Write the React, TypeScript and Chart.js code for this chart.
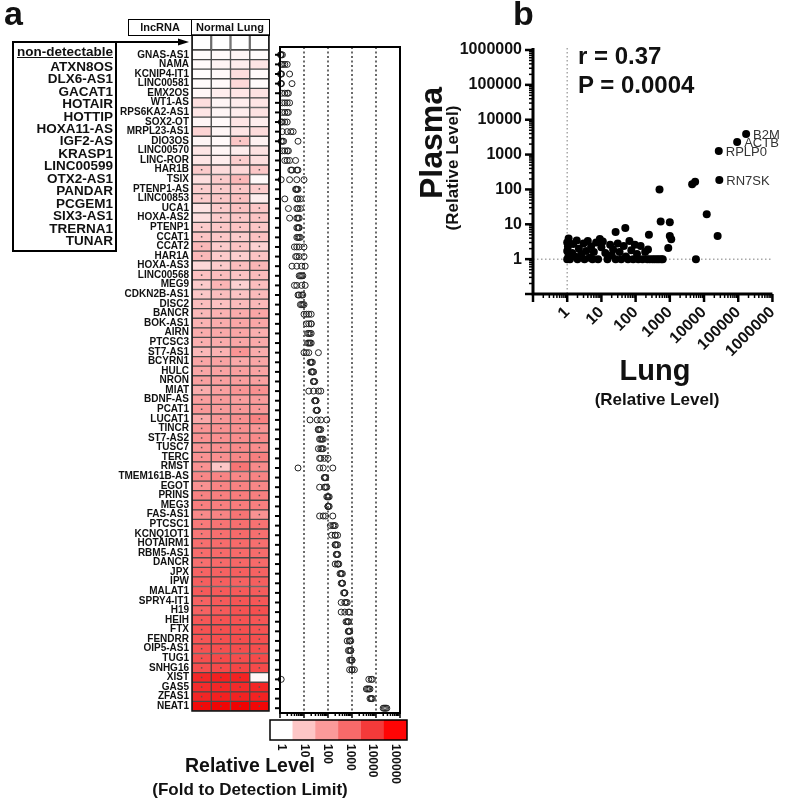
import React, { useEffect, useRef } from 'react';
import { Chart, registerables } from 'chart.js';

Chart.register(...registerables);
const FONT = "'Liberation Sans', Arial, Helvetica, sans-serif";
Chart.defaults.font.family = FONT;
Chart.defaults.color = '#111';

// ---------- Panel a data ----------
const nonDetectable = ['ATXN8OS', 'DLX6-AS1', 'GACAT1', 'HOTAIR', 'HOTTIP', 'HOXA11-AS', 'IGF2-AS', 'KRASP1', 'LINC00599', 'OTX2-AS1', 'PANDAR', 'PCGEM1', 'SIX3-AS1', 'TRERNA1', 'TUNAR'];

const lncRNAs = ['GNAS-AS1', 'NAMA', 'KCNIP4-IT1', 'LINC00581', 'EMX2OS', 'WT1-AS', 'RPS6KA2-AS1', 'SOX2-OT', 'MRPL23-AS1', 'DIO3OS',
  'LINC00570', 'LINC-ROR', 'HAR1B', 'TSIX', 'PTENP1-AS', 'LINC00853', 'UCA1', 'HOXA-AS2', 'PTENP1', 'CCAT1',
  'CCAT2', 'HAR1A', 'HOXA-AS3', 'LINC00568', 'MEG9', 'CDKN2B-AS1', 'DISC2', 'BANCR', 'BOK-AS1', 'AIRN',
  'PTCSC3', 'ST7-AS1', 'BCYRN1', 'HULC', 'NRON', 'MIAT', 'BDNF-AS', 'PCAT1', 'LUCAT1', 'TINCR',
  'ST7-AS2', 'TUSC7', 'TERC', 'RMST', 'TMEM161B-AS', 'EGOT', 'PRINS', 'MEG3', 'FAS-AS1', 'PTCSC1',
  'KCNQ1OT1', 'HOTAIRM1', 'RBM5-AS1', 'DANCR', 'JPX', 'IPW', 'MALAT1', 'SPRY4-IT1', 'H19', 'HEIH',
  'FTX', 'FENDRR', 'OIP5-AS1', 'TUG1', 'SNHG16', 'XIST', 'GAS5', 'ZFAS1', 'NEAT1'];

// log10 of relative level (fold to detection limit), one array per normal lung sample
const sample1Log10 = [0.02, 0.05, 0.02, 0.03, 0.08, 0.4, 0.3, 0.1, 0.55, 0.1,
  0.3, 0.3, 0.7, 0.4, 0.65, 0.7, 0.35, 0.4, 0.7, 0.8,
  1.0, 1.0, 0.5, 0.85, 0.7, 0.75, 0.9, 1.0, 1.1, 1.2,
  1.15, 1.0, 1.3, 1.3, 1.4, 1.2, 1.45, 1.55, 1.25, 1.6,
  1.65, 1.6, 1.65, 1.65, 1.85, 1.65, 1.95, 2.0, 1.8, 2.1,
  2.15, 2.3, 2.35, 2.3, 2.5, 2.6, 2.7, 2.55, 2.55, 2.75,
  2.85, 2.8, 2.85, 2.9, 2.9, 3.7, 3.6, 3.75, 4.3];
const sample2Log10 = [0.05, 0.12, 0.06, 0.06, 0.2, 0.1, 0.1, 0.05, 0.1, 0.05,
  0.1, 0.2, 0.45, 0.7, 0.7, 0.75, 0.7, 0.7, 0.75, 0.75,
  0.7, 0.7, 0.7, 0.9, 1.05, 0.9, 0.85, 1.1, 1.2, 1.25,
  1.2, 1.1, 1.35, 1.35, 1.4, 1.4, 1.5, 1.5, 1.55, 1.65,
  1.7, 1.7, 1.7, 0.75, 1.9, 1.9, 2.0, 2.0, 1.9, 2.2,
  2.3, 2.35, 2.4, 2.4, 2.55, 2.6, 2.7, 2.7, 2.7, 2.85,
  2.9, 2.9, 2.9, 3.0, 3.0, 3.85, 3.7, 3.85, 4.4];
const sample3Log10 = [0.1, 0.2, 0.4, 0.5, 0.3, 0.2, 0.2, 0.3, 0.3, 0.75,
  0.2, 0.65, 0.5, 1.0, 0.75, 0.85, 0.85, 0.75, 0.8, 0.7,
  0.8, 0.65, 0.9, 0.8, 0.6, 0.8, 0.95, 1.2, 1.3, 1.3,
  1.3, 1.6, 1.25, 1.4, 1.45, 1.6, 1.45, 1.55, 1.7, 1.7,
  1.75, 1.8, 1.85, 2.2, 1.85, 1.95, 2.05, 2.05, 2.2, 2.3,
  2.4, 2.4, 2.4, 2.45, 2.6, 2.55, 2.7, 2.8, 2.85, 2.85,
  2.9, 2.95, 2.95, 2.95, 3.1, 3.8, 3.65, 3.8, 4.45];
const sample4Log10 = [0.04, 0.3, 0.05, 0.04, 0.35, 0.3, 0.35, 0.2, 0.45, 0.15,
  0.35, 0.4, 0.75, 0.05, 0.68, 0.2, 0.75, 0.8, 0.78, 0.85,
  0.6, 0.8, 1.05, 0.95, 0.9, 0.95, 1.0, 1.3, 1.3, 1.15,
  1.25, 1.2, 1.3, 1.35, 1.4, 1.7, 1.5, 1.55, 1.95, 1.6,
  1.8, 1.75, 2.0, 1.8, 1.9, 1.85, 2.0, 2.0, 1.65, 2.25,
  2.3, 2.3, 2.35, 2.4, 2.55, 2.6, 2.65, 2.75, 2.9, 2.8,
  2.85, 2.9, 2.95, 3.0, 3.0, 0.05, 3.75, 3.8, 4.35];
const samples = [sample1Log10, sample2Log10, sample3Log10, sample4Log10];

const decadeLines = [10, 100, 1000, 10000];
const levelTicks = ['1', '10', '100', '1000', '10000', '100000'];
const levelColors = ['#ffffff', '#fdc6c6', '#fb9a9a', '#f86a6a', '#f43a3a', '#ff0505'];
const levelSpan = [1, 1, 1, 1, 1, 1];

// ---------- Panel b data ----------
const labeledGenes = ['B2M', 'ACTB', 'RPLP0', 'RN7SK'];
const lungLevel = [170000, 93000, 27000, 28000, 500, 4500, 5500, 12000, 25000, 5800,
  540, 1000, 1000, 1100, 900, 245, 230, 50, 26,
  1, 1.1, 1, 1.05, 1, 1.1, 1.2, 1.4, 1.5, 1.7,
  1.9, 2, 2.2, 2.6, 3, 3.2, 3.6, 4, 4.5, 5,
  5.5, 6, 7, 8, 9, 10, 11, 13, 15, 18,
  20, 22, 26, 30, 34, 38, 45, 52, 60, 66,
  75, 85, 95, 110, 120, 140, 160, 190, 220, 260,
  310, 360, 420, 480, 560, 620];
const plasmaLevel = [3900, 2300, 1260, 186, 100, 140, 165, 19.5, 4.6, 1,
  12, 11.5, 4.6, 3.7, 2.1, 5, 1.9, 7.8, 6,
  1, 1.3, 1.7, 2.3, 3, 3.9, 1, 1.5, 2.7, 1.2,
  3.4, 1, 2, 1.4, 2.8, 1, 1.7, 3.3, 1.1, 2.3,
  1, 1.6, 3.0, 1, 3.8, 2.2, 3.2, 1.5, 1, 2.6,
  1.3, 1.9, 1, 2.8, 1.6, 1, 2.4, 1.2, 1, 3.3,
  1.8, 1, 2.6, 1.4, 1, 2.4, 1, 1.6, 1, 1,
  1, 1, 1, 1, 1, 1];

// ---------- helpers ----------
function heatColor(v: number) {
  const t = Math.pow(Math.min(Math.max(v / 4.5, 0), 1), 0.85);
  const g = Math.round(255 * (1 - t));
  const r = Math.round(255 - 14 * t);
  return `rgb(${r},${g},${g})`;
}
const isPow10 = (v: number) => {
  const l = Math.log10(v);
  return Math.abs(l - Math.round(l)) < 1e-6;
};
function logTicks(minExp: number, maxExp: number) {
  const out: any[] = [];
  for (let e = minExp; e < maxExp; e++) for (let s = 1; s <= 9; s++) out.push({ value: s * Math.pow(10, e) });
  out.push({ value: Math.pow(10, maxExp) });
  return out;
}
const noPlugins = { legend: { display: false }, tooltip: { enabled: false } };

// ---------- chart configs ----------
const heatDecor = {
  id: 'heatDecor',
  afterDatasetsDraw(chart: any) {
    const { ctx, chartArea: a, scales: { x, y } } = chart;
    ctx.save();
    const top0 = a.top - 15;
    ctx.fillStyle = '#fff';
    ctx.fillRect(a.left, top0, a.right - a.left, 15);
    ctx.strokeStyle = '#4a4a4a';
    ctx.lineWidth = 1;
    for (let c = 0; c < 4; c++) {
      const x0 = x.getPixelForValue(c), x1 = x.getPixelForValue(c + 1);
      ctx.strokeRect(x0 + 0.5, top0 + 0.5, x1 - x0 - 1, 14);
    }
    ctx.fillStyle = '#555';
    samples.forEach((s, c) => s.forEach((v, i) => {
      if (v >= 0.6) {
        const px = x.getPixelForValue(c + 0.5), py = y.getPixelForValue(i);
        ctx.fillRect(px - 0.75, py - 0.75, 1.5, 1.5);
      }
    }));
    ctx.strokeStyle = '#111';
    ctx.lineWidth = 1.5;
    ctx.strokeRect(a.left, top0, a.right - a.left, a.bottom - top0);
    // arrow from the non-detectable box to the heat map
    ctx.strokeStyle = '#000';
    ctx.lineWidth = 2;
    ctx.beginPath(); ctx.moveTo(116, 42); ctx.lineTo(181, 42); ctx.stroke();
    ctx.fillStyle = '#000';
    ctx.beginPath(); ctx.moveTo(189, 42); ctx.lineTo(178, 38.5); ctx.lineTo(178, 45.5); ctx.closePath(); ctx.fill();
    ctx.restore();
  },
};

function heatmapConfig(): any {
  return {
    type: 'bar',
    data: {
      labels: lncRNAs,
      datasets: samples.map((s, c) => ({
        data: s.map(() => [c, c + 1]),
        backgroundColor: s.map(heatColor),
        borderColor: '#4a4a4a',
        borderWidth: 1,
        borderSkipped: false,
        grouped: false,
        barPercentage: 1,
        categoryPercentage: 1,
      })),
    },
    options: {
      indexAxis: 'y',
      responsive: false, animation: false, devicePixelRatio: 1,
      layout: { padding: { top: 50, bottom: 7, left: 0, right: 6 } },
      plugins: noPlugins,
      scales: {
        x: { type: 'linear', min: 0, max: 4, display: false },
        y: {
          type: 'category',
          grid: { display: false, drawTicks: false },
          border: { display: false },
          ticks: { autoSkip: false, padding: 3, color: '#111', font: { size: 10, weight: 'bold', family: FONT } },
          afterFit: (s: any) => { s.width = 192; },
        },
      },
    },
    plugins: [heatDecor],
  };
}

const dotDecor = {
  id: 'dotDecor',
  beforeDatasetsDraw(chart: any) {
    const { ctx, chartArea: a, scales: { x } } = chart;
    ctx.save();
    ctx.strokeStyle = '#3a3a3a';
    ctx.lineWidth = 1.5;
    ctx.setLineDash([2, 2.5]);
    decadeLines.forEach((v) => {
      const px = x.getPixelForValue(v);
      ctx.beginPath(); ctx.moveTo(px, a.top); ctx.lineTo(px, a.bottom); ctx.stroke();
    });
    ctx.restore();
  },
  afterDatasetsDraw(chart: any) {
    const { ctx, chartArea: a, scales: { x, y } } = chart;
    ctx.save();
    ctx.strokeStyle = '#000';
    ctx.lineWidth = 2;
    ctx.strokeRect(a.left, a.top, a.right - a.left, a.bottom - a.top);
    lncRNAs.forEach((_, i) => {
      const py = y.getPixelForValue(i);
      ctx.beginPath(); ctx.moveTo(a.left, py); ctx.lineTo(a.left - 5, py); ctx.stroke();
    });
    ctx.lineWidth = 1.5;
    logTicks(0, 5).forEach((t) => {
      const px = x.getPixelForValue(t.value);
      ctx.beginPath(); ctx.moveTo(px, a.bottom); ctx.lineTo(px, a.bottom + (isPow10(t.value) ? 5 : 3)); ctx.stroke();
    });
    ctx.restore();
  },
};

function dotConfig(): any {
  return {
    type: 'scatter',
    data: {
      datasets: [{
        data: lncRNAs.flatMap((_, i) => samples.map((s) => ({ x: Math.pow(10, s[i]), y: i }))),
        pointRadius: 3,
        pointBorderWidth: 1,
        pointBorderColor: '#222',
        pointBackgroundColor: 'rgba(255,255,255,0)',
        clip: false,
      }],
    },
    options: {
      responsive: false, animation: false, devicePixelRatio: 1,
      layout: { padding: { left: 18, right: 8, top: 7, bottom: 7 } },
      plugins: noPlugins,
      scales: {
        x: { type: 'logarithmic', min: 1, max: 100000, display: false },
        y: { type: 'linear', min: -0.81, max: 68.5, reverse: true, display: false },
      },
    },
    plugins: [dotDecor],
  };
}

const barDecor = {
  id: 'barDecor',
  afterDraw(chart: any) {
    const { ctx, chartArea: a, scales: { x } } = chart;
    ctx.save();
    ctx.strokeStyle = '#000';
    ctx.lineWidth = 1.5;
    ctx.strokeRect(a.left, a.top, a.right - a.left, a.bottom - a.top);
    ctx.fillStyle = '#111';
    ctx.font = `bold 12px ${FONT}`;
    ctx.textAlign = 'left';
    ctx.textBaseline = 'middle';
    levelTicks.forEach((lab, i) => {
      const px = x.getPixelForValue(i);
      ctx.save();
      ctx.translate(px, a.bottom + 4);
      ctx.rotate(Math.PI / 2);
      ctx.fillText(lab, 0, 0);
      ctx.restore();
    });
    ctx.restore();
  },
};

function colorbarConfig(): any {
  return {
    type: 'bar',
    data: {
      labels: levelTicks,
      datasets: [{ data: levelSpan, backgroundColor: levelColors, borderWidth: 0, barPercentage: 1, categoryPercentage: 1 }],
    },
    options: {
      responsive: false, animation: false, devicePixelRatio: 1,
      layout: { padding: { left: 8, right: 7, top: 8, bottom: 63 } },
      plugins: noPlugins,
      scales: { x: { display: false }, y: { display: false, min: 0, max: 1 } },
    },
    plugins: [barDecor],
  };
}

const scatterDecor = {
  id: 'scatterDecor',
  beforeDatasetsDraw(chart: any) {
    const { ctx, chartArea: a, scales: { x, y } } = chart;
    ctx.save();
    ctx.strokeStyle = '#a8a8a8';
    ctx.lineWidth = 1.5;
    ctx.setLineDash([1.5, 2.5]);
    const px = x.getPixelForValue(1), py = y.getPixelForValue(1);
    ctx.beginPath(); ctx.moveTo(px, a.top - 2); ctx.lineTo(px, a.bottom); ctx.stroke();
    ctx.beginPath(); ctx.moveTo(a.left, py); ctx.lineTo(a.right, py); ctx.stroke();
    ctx.restore();
  },
  afterDraw(chart: any) {
    const { ctx, chartArea: a, scales: { x, y } } = chart;
    ctx.save();
    ctx.strokeStyle = '#000';
    ctx.lineWidth = 3;
    ctx.beginPath(); ctx.moveTo(a.left, a.top - 2); ctx.lineTo(a.left, a.bottom); ctx.lineTo(a.right, a.bottom); ctx.stroke();
    y.ticks.forEach((t: any) => {
      const py = y.getPixelForValue(t.value);
      const major = isPow10(t.value);
      ctx.lineWidth = major ? 2.5 : 1.5;
      ctx.beginPath(); ctx.moveTo(a.left, py); ctx.lineTo(a.left - (major ? 8 : 4), py); ctx.stroke();
    });
    x.ticks.forEach((t: any) => {
      const px = x.getPixelForValue(t.value);
      const major = isPow10(t.value);
      ctx.lineWidth = major ? 2.5 : 1.5;
      ctx.beginPath(); ctx.moveTo(px, a.bottom); ctx.lineTo(px, a.bottom + (major ? 8 : 4)); ctx.stroke();
    });
    const meta = chart.getDatasetMeta(0);
    ctx.fillStyle = '#333';
    ctx.font = `13px ${FONT}`;
    ctx.textAlign = 'left';
    ctx.textBaseline = 'middle';
    labeledGenes.forEach((name, i) => {
      const el = meta.data[i];
      ctx.fillText(name, el.x + 7, el.y + 1);
    });
    ctx.restore();
  },
};

function scatterConfig(): any {
  const tickFont = { size: 16, weight: 'bold', family: FONT };
  const label = (v: any) => (v >= 1 && isPow10(v) ? String(v) : '');
  return {
    type: 'scatter',
    data: {
      datasets: [{
        data: lungLevel.map((v, i) => ({ x: v, y: plasmaLevel[i] })),
        pointRadius: 4,
        pointBackgroundColor: '#000',
        pointBorderWidth: 0,
        clip: false,
      }],
    },
    options: {
      responsive: false, animation: false, devicePixelRatio: 1,
      layout: { padding: { top: 20, right: 9, left: 0, bottom: 0 } },
      plugins: noPlugins,
      scales: {
        x: {
          type: 'logarithmic', min: 0.1, max: 1000000,
          afterBuildTicks: (s: any) => { s.ticks = logTicks(-1, 6); },
          afterFit: (s: any) => { s.height = 76; },
          grid: { display: false, drawTicks: true, tickLength: 8 },
          border: { display: false },
          ticks: { autoSkip: false, minRotation: 45, maxRotation: 45, padding: 1, color: '#111', font: tickFont, callback: label },
        },
        y: {
          type: 'logarithmic', min: 0.1, max: 1000000,
          afterBuildTicks: (s: any) => { s.ticks = logTicks(-1, 6); },
          afterFit: (s: any) => { s.width = 93; },
          grid: { display: false, drawTicks: true, tickLength: 8 },
          border: { display: false },
          ticks: { autoSkip: false, padding: 3, color: '#111', font: tickFont, callback: label },
        },
      },
    },
    plugins: [scatterDecor],
  };
}

// ---------- components ----------
function ChartBox({ left, top, width, height, make }: any) {
  const ref = useRef<HTMLCanvasElement>(null);
  useEffect(() => {
    const chart = new Chart(ref.current as HTMLCanvasElement, make());
    return () => chart.destroy();
  }, []);
  return <canvas ref={ref} width={width} height={height} style={{ position: 'absolute', left, top, width, height }} />;
}

function CText({ cx, cy, size, bold, children, lh }: any) {
  const h = lh || Math.round(size * 1.3);
  return (
    <div style={{ position: 'absolute', left: cx - 250, width: 500, top: cy - h / 2, height: h, lineHeight: `${h}px`, textAlign: 'center', fontSize: size, fontWeight: bold ? 'bold' : 'normal', whiteSpace: 'nowrap', color: '#111' }}>
      {children}
    </div>
  );
}

function RText({ cx, cy, size, bold, children }: any) {
  const w = 260, h = Math.round(size * 1.3);
  return (
    <div style={{ position: 'absolute', left: cx - w / 2, top: cy - h / 2, width: w, height: h, lineHeight: `${h}px`, textAlign: 'center', fontSize: size, fontWeight: bold ? 'bold' : 'normal', whiteSpace: 'nowrap', transform: 'rotate(-90deg)', color: '#111' }}>
      {children}
    </div>
  );
}

export default function App() {
  return (
    <div style={{ position: 'absolute', left: 0, top: 0, width: 787, height: 803, background: '#fff', fontFamily: FONT, color: '#111', overflow: 'hidden' }}>
      <ChartBox left={0} top={0} width={275} height={720} make={heatmapConfig} />
      <ChartBox left={262} top={40} width={146} height={680} make={dotConfig} />
      <ChartBox left={262} top={712} width={152} height={91} make={colorbarConfig} />
      <ChartBox left={440} top={30} width={347} height={340} make={scatterConfig} />

      {/* panel letters */}
      <div style={{ position: 'absolute', left: 4, top: -4, fontSize: 34, lineHeight: '34px', fontWeight: 'bold' }}>a</div>
      <div style={{ position: 'absolute', left: 513, top: -4, fontSize: 34, lineHeight: '34px', fontWeight: 'bold' }}>b</div>

      {/* heat map header */}
      <div style={{ position: 'absolute', left: 128, top: 19, width: 64, height: 17, border: '1.5px solid #000', boxSizing: 'border-box', textAlign: 'center', fontSize: 11, lineHeight: '14px', fontWeight: 'bold' }}>lncRNA</div>
      <div style={{ position: 'absolute', left: 190.5, top: 19, width: 79, height: 17, border: '1.5px solid #000', boxSizing: 'border-box', textAlign: 'center', fontSize: 11, lineHeight: '14px', fontWeight: 'bold' }}>Normal Lung</div>

      {/* non-detectable box */}
      <div style={{ position: 'absolute', left: 12, top: 41, width: 105, height: 211, border: '2px solid #000', boxSizing: 'border-box', textAlign: 'right', paddingRight: 2, paddingTop: 2.8, fontWeight: 'bold', fontSize: 13.5, lineHeight: '12.43px' }}>
        <div style={{ textDecoration: 'underline', marginBottom: 2.6 }}>non-detectable</div>
        {nonDetectable.map((n) => <div key={n}>{n}</div>)}
      </div>

      <CText cx={250} cy={765} size={19.5} bold>Relative Level</CText>
      <CText cx={250} cy={790} size={17} bold>(Fold to Detection Limit)</CText>

      {/* panel b texts */}
      <div style={{ position: 'absolute', left: 578, top: 42, fontSize: 24, lineHeight: '28px', fontWeight: 'bold', whiteSpace: 'nowrap' }}>r = 0.37</div>
      <div style={{ position: 'absolute', left: 578, top: 71, fontSize: 24, lineHeight: '28px', fontWeight: 'bold', whiteSpace: 'nowrap' }}>P = 0.0004</div>
      <RText cx={431} cy={143} size={32} bold>Plasma</RText>
      <RText cx={453} cy={168} size={17} bold>(Relative Level)</RText>
      <CText cx={655} cy={370} size={29} bold>Lung</CText>
      <CText cx={657} cy={400} size={17} bold>(Relative Level)</CText>
    </div>
  );
}
